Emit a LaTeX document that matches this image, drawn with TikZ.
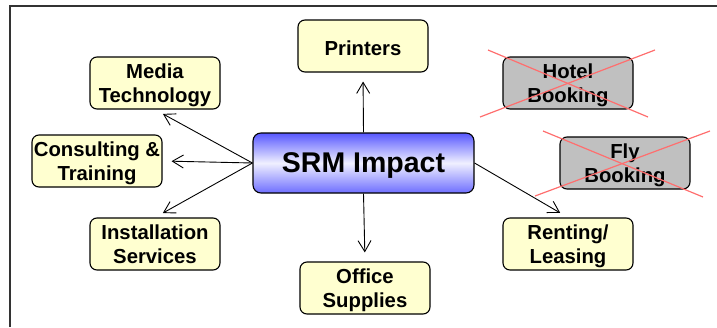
\documentclass[tikz,border=0pt]{standalone}
\usepackage{fontspec}
\setmainfont{Liberation Sans}
\usetikzlibrary{arrows.meta}
\definecolor{boxyellow}{RGB}{255,255,208}
\definecolor{boxgray}{RGB}{192,192,192}
\definecolor{crossred}{RGB}{255,110,110}
\definecolor{srmtop}{RGB}{88,88,255}
\definecolor{srmmid}{RGB}{240,240,255}
\definecolor{srmbot}{RGB}{110,110,255}
\newcommand{\lowertext}[1]{\raisebox{-2.5pt}[\height][\depth]{#1}}
\newcommand{\twolines}[2]{\lowertext{\begin{tabular}{@{}c@{}}#1\\#2\end{tabular}}}
\tikzset{
  topic/.style={draw=black, line width=1.1pt, rounded corners=7pt, fill=boxyellow,
    minimum width=130pt, minimum height=52pt, align=center,
    font=\fontsize{20.3}{24.5}\selectfont\bfseries, inner sep=0pt},
  crossed/.style={topic, fill=boxgray},
  srm/.style={draw=black, line width=1.1pt, rounded corners=8pt,
    top color=srmtop, bottom color=srmbot, middle color=srmmid,
    minimum width=221pt, minimum height=60pt,
    font=\fontsize{28.5}{32}\selectfont\bfseries, inner sep=0pt},
  arr/.style={-{Straight Barb[length=11pt,width=13pt,line width=0.9pt]}, line width=0.9pt, shorten >=9pt},
  strike/.style={crossred, line width=1.2pt},
  frameline/.style={draw=black!80, line width=1.3pt}
}
\begin{document}
\begin{tikzpicture}[x=1pt,y=-1pt]
\useasboundingbox (0,0) rectangle (717,327);
\draw[frameline] (10,327) -- (10,6) -- (717,6);

\node[srm] (c) at (363.5,163) {\lowertext{SRM Impact}};
\node[topic] (pr) at (363,46) {\lowertext{Printers}};
\node[topic] (mt) at (155,83) {\twolines{Media}{Technology}};
\node[topic] (ct) at (97,161) {\twolines{Consulting \&}{Training}};
\node[topic] (is) at (155,244) {\twolines{Installation}{Services}};
\node[topic] (os) at (365,288) {\twolines{Office}{Supplies}};
\node[topic] (rl) at (568,244) {\twolines{Renting/}{Leasing}};
\node[crossed] (hb) at (568,83) {\twolines{Hotel}{Booking}};
\node[crossed] (fb) at (625,163) {\twolines{Fly}{Booking}};

\draw[arr] (c.north) -- (pr.south);
\draw[arr] (c.west) -- (mt.south);
\draw[arr] (c.west) -- (ct.east);
\draw[arr] (c.west) -- (is.north);
\draw[arr] (c.south) -- (os.north);
\draw[arr] (c.east) -- (rl.north);

\coordinate (h1) at (488,50);
\coordinate (h2) at (648,117);
\coordinate (h3) at (480,117);
\coordinate (h4) at (655,50);
\draw[strike] (h1) -- (h2);
\draw[strike] (h3) -- (h4);
\coordinate (f1) at (543,131);
\coordinate (f2) at (703,197);
\coordinate (f3) at (535,196);
\coordinate (f4) at (710,131);
\draw[strike] (f1) -- (f2);
\draw[strike] (f3) -- (f4);
\end{tikzpicture}
\end{document}
